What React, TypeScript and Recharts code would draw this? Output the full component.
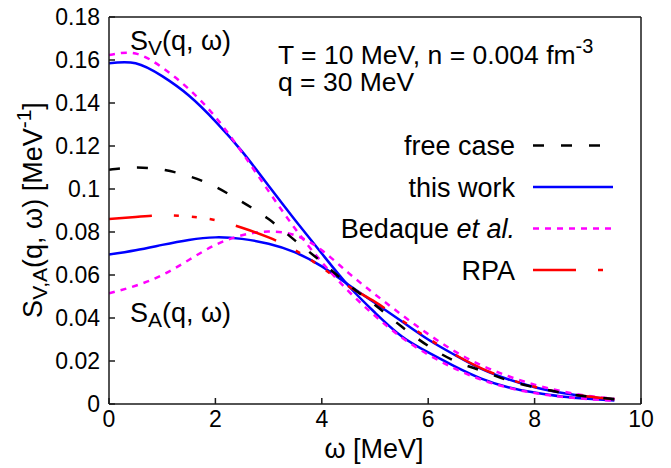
import React from 'react';
import { LineChart, Line, XAxis, YAxis } from 'recharts';

// omega [MeV]
const omega = [0, 0.5, 1, 1.5, 2, 2.5, 3, 3.5, 4, 4.5, 5, 5.5, 6, 6.5, 7, 7.5, 8, 8.5, 9, 9.5];

// S(q, omega) [MeV^-1]
const freeCase = [0.109, 0.110, 0.109, 0.106, 0.101, 0.094, 0.086, 0.076, 0.066, 0.0555, 0.046, 0.036, 0.027, 0.020, 0.0155, 0.011, 0.0078, 0.0053, 0.0035, 0.0023];
const thisWorkV = [0.1585, 0.1585, 0.1525, 0.1435, 0.1315, 0.1175, 0.1015, 0.0855, 0.070, 0.055, 0.0425, 0.0315, 0.024, 0.0175, 0.0118, 0.0078, 0.0053, 0.0035, 0.0024, 0.0016];
const thisWorkA = [0.0695, 0.0715, 0.074, 0.0763, 0.0775, 0.0768, 0.0745, 0.0705, 0.064, 0.0555, 0.047, 0.0385, 0.030, 0.0228, 0.0163, 0.0115, 0.0078, 0.0052, 0.0034, 0.0022];
const bedaqueV = [0.1623, 0.163, 0.1565, 0.1465, 0.1335, 0.117, 0.099, 0.0815, 0.066, 0.0525, 0.041, 0.031, 0.023, 0.0165, 0.0113, 0.0076, 0.0051, 0.0034, 0.0023, 0.0015];
const bedaqueA = [0.0515, 0.055, 0.060, 0.067, 0.074, 0.0785, 0.0802, 0.0785, 0.0715, 0.061, 0.051, 0.0415, 0.0325, 0.0245, 0.018, 0.013, 0.009, 0.006, 0.0038, 0.0024];
const rpa = [0.086, 0.087, 0.0877, 0.0872, 0.0855, 0.082, 0.0775, 0.0715, 0.0635, 0.0548, 0.0475, 0.039, 0.0305, 0.023, 0.0166, 0.0117, 0.008, 0.0053, 0.0035, 0.0022];

const xTicks = [0, 2, 4, 6, 8, 10];
const yTicks = [0, 0.02, 0.04, 0.06, 0.08, 0.1, 0.12, 0.14, 0.16, 0.18];

const data = omega.map((w, i) => ({
  w,
  free: freeCase[i],
  twV: thisWorkV[i],
  twA: thisWorkA[i],
  bqV: bedaqueV[i],
  bqA: bedaqueA[i],
  rpa: rpa[i],
}));

const styles: Record<string, { color: string; dash?: string }> = {
  free: { color: '#000000', dash: '11 17' },
  tw: { color: '#0000ff' },
  bq: { color: '#ff00ff', dash: '6 6' },
  rpa: { color: '#ff0000', dash: '43 22 5 13 5 13 5 22' },
};

const seriesList = [
  { key: 'twV', style: 'tw' },
  { key: 'twA', style: 'tw' },
  { key: 'bqV', style: 'bq' },
  { key: 'bqA', style: 'bq' },
  { key: 'rpa', style: 'rpa' },
  { key: 'free', style: 'free' },
];

const legendItems = [
  { label: 'free case', style: 'free' },
  { label: 'this work', style: 'tw' },
  { label: 'Bedaque', italic: ' et al.', style: 'bq' },
  { label: 'RPA', style: 'rpa' },
];

const FONT = '"Liberation Sans", Arial, Helvetica, sans-serif';
const AXIS = '#1a1a1a';

const fmtY = (v: number) => (v === 0 ? '0' : String(Number(v.toFixed(2))));

export default function App() {
  return (
    <div style={{ position: 'absolute', left: 0, top: 0, width: 671, height: 468, background: '#fff' }}>
      <LineChart width={671} height={468} data={data} margin={{ top: 0, right: 0, bottom: 0, left: 0 }}>
        <XAxis
          dataKey="w"
          type="number"
          domain={[0, 10]}
          ticks={xTicks}
          height={64}
          tickSize={-6}
          tickMargin={13}
          axisLine={{ stroke: AXIS, strokeWidth: 1.5 }}
          tickLine={{ stroke: AXIS, strokeWidth: 1.5 }}
          tick={{ fill: '#000', fontSize: 23, fontFamily: FONT }}
          allowDataOverflow
        />
        <XAxis
          xAxisId="top"
          orientation="top"
          dataKey="w"
          type="number"
          domain={[0, 10]}
          ticks={xTicks}
          height={17}
          tickSize={-6}
          axisLine={{ stroke: AXIS, strokeWidth: 1.5 }}
          tickLine={{ stroke: AXIS, strokeWidth: 1.5 }}
          tick={false}
          allowDataOverflow
        />
        <YAxis
          type="number"
          domain={[0, 0.18]}
          ticks={yTicks}
          width={109}
          tickSize={-6}
          tickMargin={15}
          tickFormatter={fmtY}
          axisLine={{ stroke: AXIS, strokeWidth: 1.5 }}
          tickLine={{ stroke: AXIS, strokeWidth: 1.5 }}
          tick={{ fill: '#000', fontSize: 23, fontFamily: FONT }}
          allowDataOverflow
        />
        <YAxis
          yAxisId="right"
          orientation="right"
          type="number"
          domain={[0, 0.18]}
          ticks={yTicks}
          width={30}
          tickSize={-6}
          axisLine={{ stroke: AXIS, strokeWidth: 1.5 }}
          tickLine={{ stroke: AXIS, strokeWidth: 1.5 }}
          tick={false}
          allowDataOverflow
        />
        {seriesList.map((s) => (
          <Line
            key={s.key}
            dataKey={s.key}
            type="natural"
            stroke={styles[s.style].color}
            strokeWidth={2.5}
            strokeDasharray={styles[s.style].dash}
            dot={false}
            activeDot={false}
            isAnimationActive={false}
          />
        ))}
      </LineChart>
      <svg
        width={671}
        height={468}
        style={{ position: 'absolute', left: 0, top: 0, pointerEvents: 'none' }}
        fontFamily={FONT}
      >
        {/* y-axis label */}
        <text transform="translate(42,210) rotate(-90)" textAnchor="middle" fontSize={27} fill="#000">
          S<tspan fontSize={21} dy={5}>V,A</tspan>
          <tspan dy={-5}>(q, ω) [MeV</tspan>
          <tspan fontSize={21} dy={-11}>-1</tspan>
          <tspan dy={11}>]</tspan>
        </text>
        {/* x-axis label */}
        <text x={374} y={458} textAnchor="middle" fontSize={27} fill="#000">ω [MeV]</text>
        {/* annotations */}
        <text x={130} y={50} fontSize={27} fill="#000">
          S<tspan fontSize={21} dy={5}>V</tspan><tspan dy={-5}>(q, ω)</tspan>
        </text>
        <text x={130} y={322} fontSize={27} fill="#000">
          S<tspan fontSize={21} dy={5}>A</tspan><tspan dy={-5}>(q, ω)</tspan>
        </text>
        <text x={278} y={64} fontSize={26.5} fill="#000">
          T = 10 MeV, n = 0.004 fm<tspan fontSize={20} dy={-11}>-3</tspan>
        </text>
        <text x={278} y={91} fontSize={26.5} fill="#000">q = 30 MeV</text>
        {/* legend */}
        {legendItems.map((it, i) => {
          const base = 155 + i * 41.5;
          const st = styles[it.style];
          return (
            <g key={it.label}>
              <text x={515} y={base} textAnchor="end" fontSize={27} fill="#000">
                {it.label}
                {it.italic ? <tspan fontStyle="italic">{it.italic}</tspan> : null}
              </text>
              <line x1={533} x2={613} y1={base - 9.5} y2={base - 9.5} stroke={st.color} strokeWidth={2.5} strokeDasharray={st.dash} />
            </g>
          );
        })}
      </svg>
    </div>
  );
}
